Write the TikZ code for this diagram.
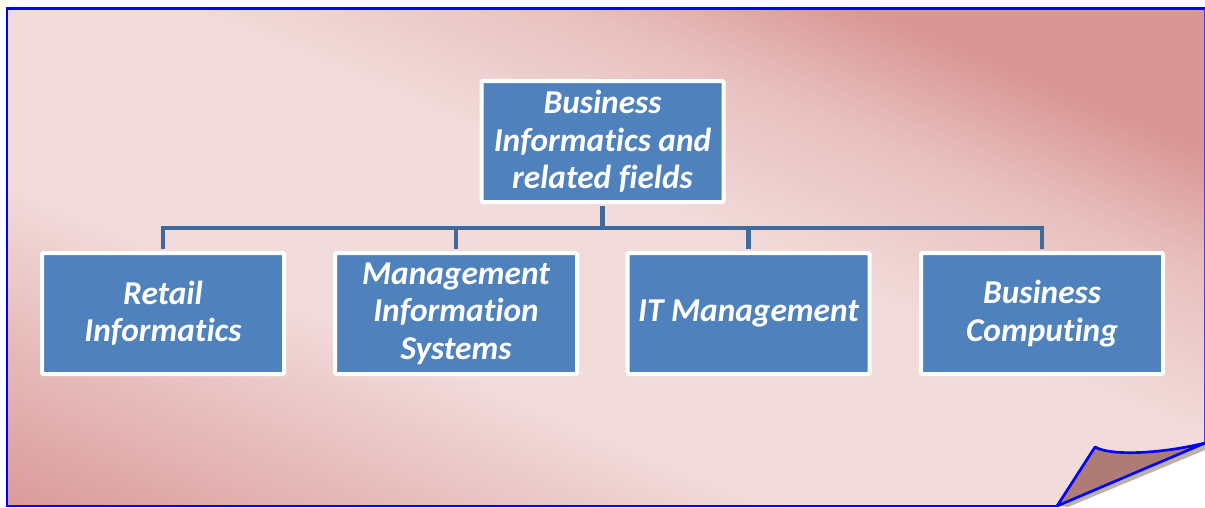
\documentclass[tikz,border=0pt]{standalone}
\usepackage{fontspec}
\setmainfont{Carlito}[Ligatures={NoCommon,NoRare,NoContextual}]
\usetikzlibrary{calc}

\definecolor{pagedark}{RGB}{217,150,148}
\definecolor{pagedarklow}{RGB}{219,155,155}
\definecolor{pagelight}{RGB}{242,220,219}
\colorlet{pagemid}{pagedark!40!pagelight}
\definecolor{boxblue}{RGB}{79,129,189}
\definecolor{linkblue}{RGB}{64,106,155}
\definecolor{curlback}{RGB}{175,123,119}

% light band along the page diagonal, darker towards the two other corners
% (0bp = lower left side, 100bp = upper right side)
\pgfdeclareverticalshading{pagegrad}{100bp}{%
  color(0bp)=(pagedarklow); color(27bp)=(pagedarklow);
  color(42bp)=(pagelight); color(52.8bp)=(pagelight);
  color(60.7bp)=(pagemid); color(66.4bp)=(pagedark); color(100bp)=(pagedark)}

\tikzset{
  orgbox/.style={rectangle, draw=white, line width=3pt, fill=boxblue,
    minimum width=181.5pt, minimum height=90.75pt, inner sep=0pt,
    rounded corners=1pt, align=center, text=white,
    font=\fontsize{25}{28}\selectfont\bfseries\itshape},
  link/.style={draw=linkblue, line width=3.6pt, line join=miter},
  frameline/.style={draw=blue, line width=2pt, line join=miter}
}

\begin{document}
\begin{tikzpicture}[x=0.75pt, y=-0.75pt]
  \useasboundingbox (0,0) rectangle (1205,507);
  \fill[white] (0,0) rectangle (1205,507);

  % page with its gradient, corner cut away by the curl
  \begin{scope}
    \clip (7,8.5) -- (1205,8.5) -- (1205,443) -- (1057,506) -- (7,506) -- cycle;
    \shade[shading=pagegrad, transform canvas={shift={(602.5,253.5)}, rotate=-22.82}]
      (-900,-500) rectangle (900,500);
  \end{scope}

  % page border
  \draw[frameline] (1057,506) -- (7,506) -- (7,8.5) -- (1210,8.5);
  \draw[blue!70!pink, line width=1pt] (1204.5,8.5) -- (1204.5,443);

  % curled corner: shadow, back side, outline
  \fill[gray!70!brown, opacity=0.6] (1057,506) -- (1205,443) -- (1205,450) -- (1068,507) -- cycle;
  \fill[curlback] (1057,506) -- (1095,447) .. controls (1110,456) and (1160,454) .. (1205,443) -- cycle;
  \draw[frameline, line join=round] (1057,506) -- (1095,447) .. controls (1110,456) and (1160,454) .. (1205,443) -- cycle;

  % boxes
  \node[orgbox] (top) at (602.5,141.5) {Business\\Informatics and\\related fields};
  \node[orgbox] (retail) at (163,313.5) {Retail\\Informatics};
  \node[orgbox] (mis) at (456,313.5) {Management\\Information\\Systems};
  \node[orgbox] (itm) at (748.5,313.5) {IT Management};
  \node[orgbox] (bc) at (1042,313.5) {Business\\Computing};

  % connectors through a common bus
  \coordinate (bus) at (602.5,228);
  \draw[link, shorten <=1.5pt] (top.south) -- (bus);
  \draw[link, shorten <=1.5pt] (retail.north) |- (bus);
  \draw[link, shorten <=1.5pt] (bc.north) |- (bus);
  \draw[link, shorten <=1.5pt] (mis.north) -- (mis.north |- bus);
  \draw[link, shorten <=1.5pt] (itm.north) -- (itm.north |- bus);
\end{tikzpicture}
\end{document}
